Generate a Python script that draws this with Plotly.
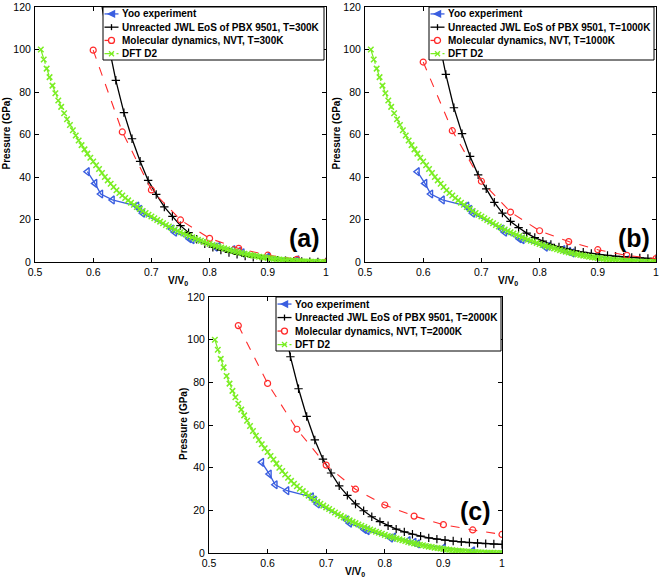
import plotly.graph_objects as go

W, H = 661, 583

# ---------------- data ----------------
yoo_x = [0.590, 0.603, 0.613, 0.633, 0.675, 0.680, 0.685, 0.735, 0.740, 0.765, 0.770,
         0.810, 0.815, 0.840, 0.850, 0.856, 0.900, 0.950, 1.000]
yoo_y = [42.5, 37.0, 32.0, 29.2, 26.3, 24.8, 23.0, 15.5, 14.0, 11.0, 10.5,
         7.0, 7.4, 5.8, 5.0, 4.3, 2.4, 1.0, 0.0]

jwl_x = [0.5972, 0.6111, 0.6250, 0.6389, 0.6528, 0.6667, 0.6806, 0.6944, 0.7083, 0.7222,
         0.7361, 0.7500, 0.7639, 0.7778, 0.7917, 0.8056, 0.8194, 0.8333, 0.8472, 0.8611,
         0.8750, 0.8889, 0.9028, 0.9167, 0.9306, 0.9444, 0.9583, 0.9722, 0.9861, 1.0000]
jwl_300 = [155, 127, 104, 85.5, 70.3, 58.0, 47.4, 38.4, 31.8, 25.9,
           21.5, 17.1, 13.8, 10.7, 8.6, 6.9, 5.6, 4.5, 3.6, 2.8,
           2.2, 1.7, 1.3, 0.9, 0.6, 0.4, 0.25, 0.12, 0.05, 0.0]
jwl_1000 = [160, 130, 107, 88.3, 72.6, 60.4, 49.7, 41.0, 34.4, 28.1,
            23.0, 19.1, 16.2, 13.6, 11.5, 9.8, 8.3, 7.1, 6.1, 5.3,
            4.6, 4.0, 3.5, 3.1, 2.7, 2.4, 2.1, 1.9, 1.7, 1.5]
jwl_2000 = [165, 134, 111, 92.0, 77.0, 64.0, 53.0, 44.0, 37.5, 31.5,
            27.0, 23.0, 19.8, 17.0, 14.7, 12.8, 11.2, 9.9, 8.8, 7.9,
            7.1, 6.5, 6.0, 5.6, 5.2, 4.9, 4.6, 4.4, 4.2, 4.0]

md_x_ab = [0.60, 0.65, 0.70, 0.75, 0.80, 0.85, 0.90, 0.95, 1.00]
md_300 = [99.7, 61.2, 33.9, 19.8, 11.1, 6.4, 3.2, 1.25, 0.0]
md_1000 = [94.1, 61.8, 38.0, 23.5, 14.7, 9.6, 5.8, 3.1, 1.6]
md_x_c = [0.55, 0.60, 0.65, 0.70, 0.75, 0.80, 0.85, 0.90, 0.95, 1.00]
md_2000 = [106.6, 79.5, 58.0, 41.2, 29.9, 22.5, 17.3, 13.3, 10.8, 8.7]

dft_x = [0.510, 0.515, 0.520, 0.525, 0.530, 0.535, 0.540, 0.545, 0.550, 0.555,
         0.560, 0.565, 0.570, 0.575, 0.580, 0.585, 0.590, 0.595, 0.600, 0.605,
         0.610, 0.615, 0.620, 0.625, 0.630, 0.635, 0.640, 0.645, 0.650, 0.655,
         0.660, 0.665, 0.670, 0.675, 0.680, 0.685, 0.690, 0.695, 0.700, 0.705,
         0.710, 0.715, 0.720, 0.725, 0.730, 0.735, 0.740, 0.745, 0.750, 0.755,
         0.760, 0.765, 0.770, 0.775, 0.780, 0.785, 0.790, 0.795, 0.800, 0.805,
         0.810, 0.815, 0.820, 0.825, 0.830, 0.835, 0.840, 0.845, 0.850, 0.855,
         0.860, 0.865, 0.870, 0.875, 0.880, 0.885, 0.890, 0.895, 0.900, 0.905,
         0.910, 0.915, 0.920, 0.925, 0.930, 0.935, 0.940, 0.945, 0.950, 0.955,
         0.960, 0.965, 0.970, 0.975, 0.980, 0.985, 0.990, 0.995, 1.000]
dft_y = [100.0, 95.3, 91.0, 87.0, 83.0, 79.4, 76.0, 73.0, 70.0, 67.2,
         64.5, 62.0, 59.5, 57.2, 55.0, 53.0, 51.0, 49.1, 47.3, 45.5,
         43.8, 41.9, 40.0, 38.4, 36.8, 35.3, 33.8, 32.5, 31.3, 30.1,
         29.0, 27.9, 26.9, 25.9, 25.0, 24.0, 23.1, 22.2, 21.4, 20.6,
         19.8, 19.0, 18.2, 17.4, 16.7, 16.0, 15.3, 14.6, 14.0, 13.4,
         12.8, 12.2, 11.6, 11.0, 10.5, 10.0, 9.5, 9.0, 8.5, 8.0,
         7.6, 7.2, 6.8, 6.4, 6.0, 5.6, 5.2, 4.8, 4.5, 4.2,
         3.9, 3.6, 3.3, 3.0, 2.8, 2.5, 2.3, 2.1, 1.9, 1.7,
         1.5, 1.35, 1.2, 1.05, 0.9, 0.8, 0.7, 0.6, 0.5, 0.4,
         0.3, 0.25, 0.2, 0.15, 0.1, 0.05, 0.0, 0.0, 0.0]

x_ticks = [0.5, 0.6, 0.7, 0.8, 0.9, 1.0]
x_tick_text = ["0.5", "0.6", "0.7", "0.8", "0.9", "1"]
y_ticks = [0, 20, 40, 60, 80, 100, 120]

temps = ["300K", "1000K", "2000K"]
panel_labels = ["(a)", "(b)", "(c)"]

# ---------------- layout geometry (pixels) ----------------
panels = [
    dict(l=35, r=326, t=7, b=262),
    dict(l=365, r=656, t=7, b=262),
    dict(l=209, r=502, t=297, b=553),
]
# legend boxes (pixels): left, right, top, bottom
legend_boxes = [
    dict(l=103, r=324, t=7, b=60),
    dict(l=429, r=654, t=7, b=60),
    dict(l=276, r=501, t=297, b=351),
]

BLUE = "#3a5ee0"
RED = "#ff2a2a"
GREEN = "#7aee22"
FONT = "Liberation Sans, Arial, sans-serif"

fig = go.Figure()

jwl_sets = [jwl_300, jwl_1000, jwl_2000]
md_sets = [(md_x_ab, md_300), (md_x_ab, md_1000), (md_x_c, md_2000)]

for i in range(3):
    sfx = "" if i == 0 else str(i + 1)
    xa, ya = "x" + sfx, "y" + sfx
    fig.add_trace(go.Scatter(
        x=yoo_x, y=yoo_y, mode="lines+markers", name="Yoo experiment",
        line=dict(color=BLUE, width=1.3),
        marker=dict(symbol="triangle-left-open", size=7, color=BLUE, line=dict(width=1.4, color=BLUE)),
        xaxis=xa, yaxis=ya, showlegend=False))
    fig.add_trace(go.Scatter(
        x=jwl_x, y=jwl_sets[i], mode="lines+markers",
        name="Unreacted JWL EoS of PBX 9501, T=" + temps[i],
        line=dict(color="black", width=1.3),
        marker=dict(symbol="cross-thin-open", size=6, color="black", line=dict(width=1.2, color="black")),
        xaxis=xa, yaxis=ya, showlegend=False))
    mx, my = md_sets[i]
    fig.add_trace(go.Scatter(
        x=mx, y=my, mode="lines+markers",
        name="Molecular dynamics, NVT, T=" + temps[i],
        line=dict(color=RED, width=1.1, dash="dash"),
        marker=dict(symbol="circle-open", size=6, color=RED, line=dict(width=1.2, color=RED)),
        xaxis=xa, yaxis=ya, showlegend=False))
    fig.add_trace(go.Scatter(
        x=dft_x, y=dft_y, mode="lines+markers", name="DFT D2",
        line=dict(color=GREEN, width=1.2, dash="dashdot"),
        marker=dict(symbol="x-thin-open", size=5.5, color=GREEN, line=dict(width=1.5, color=GREEN)),
        xaxis=xa, yaxis=ya, showlegend=False))

layout = dict(
    template="none",
    width=W, height=H, margin=dict(l=0, r=0, t=0, b=0, autoexpand=False),
    paper_bgcolor="white", plot_bgcolor="white",
    font=dict(family=FONT, size=11, color="black"),
    showlegend=False,
    annotations=[], shapes=[],
)

for i, p in enumerate(panels):
    sfx = "" if i == 0 else str(i + 1)
    axcommon = dict(showline=True, linecolor="black", linewidth=1, mirror="ticks",
                    ticks="inside", ticklen=4, tickcolor="black", tickwidth=1, showgrid=False,
                    zeroline=False, automargin=False, ticklabeloverflow="allow",
                    tickfont=dict(family=FONT, size=10.5, color="black"))
    layout["xaxis" + sfx] = dict(domain=[p["l"] / W, p["r"] / W], range=[0.5, 1.0],
                                 tickvals=x_ticks, ticktext=x_tick_text,
                                 anchor="y" + sfx, ticklabelstandoff=0, **axcommon)
    layout["yaxis" + sfx] = dict(domain=[1 - p["b"] / H, 1 - p["t"] / H], range=[0, 120],
                                 tickvals=y_ticks, anchor="x" + sfx,
                                 ticklabelstandoff=1, **axcommon)

# axis titles & panel labels
ytitle_x = [6, 336, 183]
xtitle_x = [178, 508, 355]
xtitle_y = [281, 281, 572]
for i, p in enumerate(panels):
    layout["annotations"].append(dict(
        text="<b>Pressure (GPa)</b>", textangle=-90, showarrow=False,
        xref="paper", yref="paper", x=ytitle_x[i] / W, y=1 - ((p["t"] + p["b"]) / 2 - 1) / H,
        xanchor="center", yanchor="middle", font=dict(family=FONT, size=10, color="black")))
    layout["annotations"].append(dict(
        text="<b>V/V<sub>0</sub></b>", showarrow=False,
        xref="paper", yref="paper", x=xtitle_x[i] / W, y=1 - xtitle_y[i] / H,
        xanchor="center", yanchor="middle", font=dict(family=FONT, size=10, color="black")))

label_pos = [(0.985, 0.094), (0.985, 0.094), (0.97, 0.165)]
for i in range(3):
    sfx = "" if i == 0 else str(i + 1)
    layout["annotations"].append(dict(
        text="<b>" + panel_labels[i] + "</b>", showarrow=False,
        xref="x" + sfx + " domain", yref="y" + sfx + " domain",
        x=label_pos[i][0], y=label_pos[i][1], xanchor="right", yanchor="middle",
        font=dict(family=FONT, size=25, color="black")))


# ---------------- hand-built legends (MATLAB style) ----------------
def px(x):
    return x / W


def py(y):
    return 1 - y / H


for i, b in enumerate(legend_boxes):
    layout["shapes"].append(dict(type="rect", xref="paper", yref="paper",
                                 x0=px(b["l"]), x1=px(b["r"]), y0=py(b["b"]), y1=py(b["t"]),
                                 line=dict(color="black", width=1), fillcolor="white", layer="above"))
    names = ["Yoo experiment",
             "Unreacted JWL EoS of PBX 9501, T=" + temps[i],
             "Molecular dynamics, NVT, T=" + temps[i],
             "DFT D2"]
    colors = [BLUE, "black", RED, GREEN]
    dashes = ["solid", "solid", "dash", "dashdot"]
    row_h = (b["b"] - b["t"]) / 4.0
    for k in range(4):
        cy = b["t"] + row_h * (k + 0.5) + 0.3
        lx0, lx1 = b["l"] + 1.5, b["l"] + 15.5
        cx = (lx0 + lx1) / 2
        layout["shapes"].append(dict(type="line", xref="paper", yref="paper",
                                     x0=px(lx0), x1=px(lx1), y0=py(cy), y1=py(cy),
                                     line=dict(color=colors[k], width=1.3, dash=dashes[k]),
                                     layer="above"))
        s = 3.0
        if k == 0:
            path = "M {} {} L {} {} L {} {} Z".format(px(cx - s), py(cy), px(cx + s), py(cy - s),
                                                   px(cx + s), py(cy + s))
            layout["shapes"].append(dict(type="path", xref="paper", yref="paper", path=path,
                                         line=dict(color=BLUE, width=1.4), fillcolor=BLUE, layer="above"))
        elif k == 1:
            layout["shapes"].append(dict(type="line", xref="paper", yref="paper",
                                         x0=px(cx), x1=px(cx), y0=py(cy - s), y1=py(cy + s),
                                         line=dict(color="black", width=1.3), layer="above"))
        elif k == 2:
            layout["shapes"].append(dict(type="circle", xref="paper", yref="paper",
                                         x0=px(cx - s), x1=px(cx + s), y0=py(cy + s), y1=py(cy - s),
                                         line=dict(color=RED, width=1.3), fillcolor="white", layer="above"))
        else:
            for sgn in (1, -1):
                layout["shapes"].append(dict(type="line", xref="paper", yref="paper",
                                             x0=px(cx - 2.5), x1=px(cx + 2.5),
                                             y0=py(cy - 2.5 * sgn), y1=py(cy + 2.5 * sgn),
                                             line=dict(color=GREEN, width=1.3), layer="above"))
        layout["annotations"].append(dict(
            text="<b>" + names[k] + "</b>", showarrow=False,
            xref="paper", yref="paper", x=px(b["l"] + 17), y=py(cy),
            xanchor="left", yanchor="middle", font=dict(family=FONT, size=10, color="black")))

fig.update_layout(**layout)
# remove the browser's default 8px page margin so the figure sits at (0, 0); hide the mode bar
fig.write_html("out.html", config={"displayModeBar": False},
               post_script="document.body.style.margin='0px';")
